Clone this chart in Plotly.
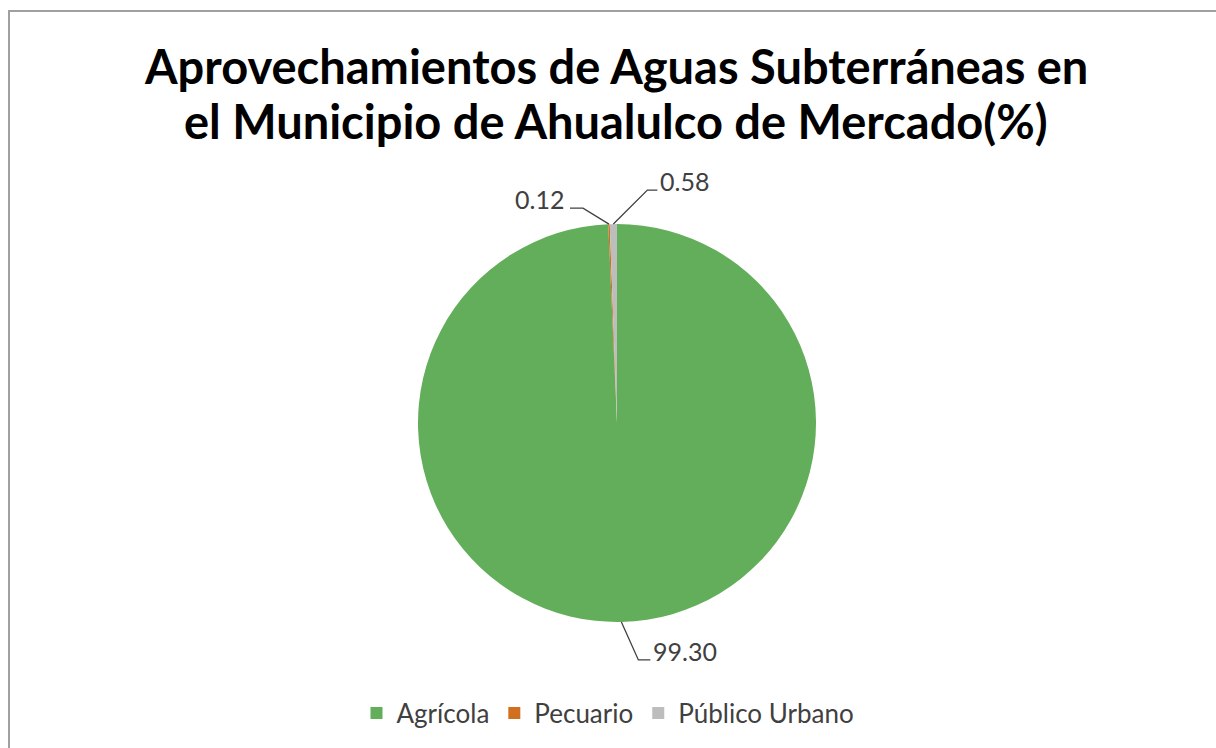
import math
import plotly.graph_objects as go

categories = ["Agrícola", "Pecuario", "Público Urbano"]
values = [99.30, 0.12, 0.58]
label_texts = ["99.30", "0.12", "0.58"]
colors = ["#63AE5A", "#D0701F", "#BDBDBD"]
title_lines = ["Aprovechamientos de Aguas Subterráneas en",
               "el Municipio de Ahualulco de Mercado(%)"]

W, H = 1216, 748
CX, CY, R = 617, 423, 199

def px(x):
    return x / W

def py(y):
    return 1 - y / H

FONT = "Lato, Calibri, sans-serif"

fig = go.Figure()
fig.add_trace(go.Pie(
    labels=categories,
    values=values,
    sort=False,
    direction="clockwise",
    rotation=0,
    marker=dict(colors=colors, line=dict(width=0)),
    textinfo="none",
    hoverinfo="label+value",
    domain=dict(x=[px(CX - R), px(CX + R)], y=[py(CY + R), py(CY - R)]),
))

# leader-line geometry (elbow offsets in px) per slice
offsets = {
    "Agrícola": (17, 38, 12),
    "Pecuario": (-26, -16, -13),
    "Público Urbano": (34, -34, 10),
}

shapes = []
annotations = []
total = sum(values)
cum = 0.0
for cat, val, txt in zip(categories, values, label_texts):
    mid = (cum + val / 2) / total * 2 * math.pi
    cum += val
    ax = CX + R * math.sin(mid)
    ay = CY - R * math.cos(mid)
    dx, dy, hx = offsets[cat]
    ex, ey = ax + dx, ay + dy
    fx = ex + hx
    shapes.append(dict(type="path", xref="paper", yref="paper",
                       path=f"M {px(ax)},{py(ay)} L {px(ex)},{py(ey)} L {px(fx)},{py(ey)}",
                       line=dict(color="#404040", width=1.3)))
    right = hx > 0
    annotations.append(dict(
        x=px(fx + (1 if right else -4)), y=py(ey - 9), xref="paper", yref="paper",
        text=txt, showarrow=False,
        xanchor="left" if right else "right", yanchor="middle",
        font=dict(family=FONT, size=25, color="#404040"),
    ))

# title lines
for line, yc in zip(title_lines, [66, 121]):
    annotations.append(dict(
        x=px(616), y=py(yc), xref="paper", yref="paper",
        text=f"<b>{line}</b>", showarrow=False, xanchor="center", yanchor="middle",
        font=dict(family=FONT, size=47, color="#000000"),
    ))

# chart border
shapes.append(dict(type="rect", xref="paper", yref="paper",
                   x0=px(9), y0=py(11), x1=px(1230), y1=py(760),
                   line=dict(color="#A0A0A0", width=2), fillcolor="rgba(0,0,0,0)", layer="below"))

fig.update_layout(
    width=W, height=H,
    margin=dict(l=0, r=0, t=0, b=0),
    paper_bgcolor="white",
    plot_bgcolor="white",
    showlegend=True,
    legend=dict(orientation="h", x=0.5, xanchor="center", y=py(713), yanchor="middle",
                font=dict(family=FONT, size=26, color="#404040"),
                itemclick=False, traceorder="normal", itemwidth=30),
    shapes=shapes,
    annotations=annotations,
)

fig.write_html("out.html", config={"displayModeBar": False},
               post_script="document.body.style.margin='0';document.body.style.padding='0';")
